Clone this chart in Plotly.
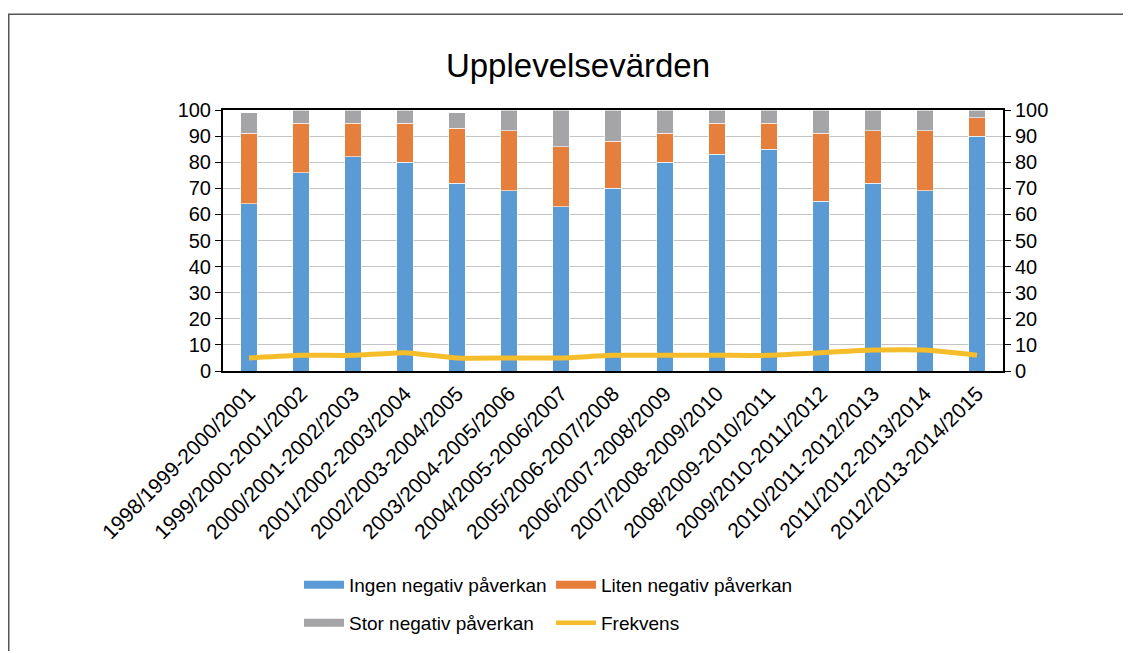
import plotly.graph_objects as go

# Säsonger (kategorier)
seasons = [
    "1998/1999-2000/2001", "1999/2000-2001/2002", "2000/2001-2002/2003",
    "2001/2002-2003/2004", "2002/2003-2004/2005", "2003/2004-2005/2006",
    "2004/2005-2006/2007", "2005/2006-2007/2008", "2006/2007-2008/2009",
    "2007/2008-2009/2010", "2008/2009-2010/2011", "2009/2010-2011/2012",
    "2010/2011-2012/2013", "2011/2012-2013/2014", "2012/2013-2014/2015",
]

ingen = [64, 76, 82, 80, 72, 69, 63, 70, 80, 83, 85, 65, 72, 69, 90]
liten = [27, 19, 13, 15, 21, 23, 23, 18, 11, 12, 10, 26, 20, 23, 7]
stor = [8, 5, 5, 5, 6, 8, 14, 12, 9, 5, 5, 9, 8, 8, 3]
frekvens = [5, 6, 6, 7, 5, 5, 5, 6, 6, 6, 6, 7, 8, 8, 6]

yticks = list(range(0, 101, 10))

FONT = "Liberation Sans, Arial, sans-serif"
BLUE, ORANGE, GREY, GOLD = "#5B9BD5", "#E67E3C", "#A5A5A8", "#F6BD2A"
bar_edge = dict(color="rgba(255,255,255,0.6)", width=1)

# sidan får 8 px marginal, så figuren görs 8 px mindre
W, H = 1123, 645
L, R, T, B = 215, 128, 102, 281
PW, PH = W - L - R, H - T - B


def px_x(x):
    return (x - L) / PW


def px_y(y):
    return (H - B - y) / PH


fig = go.Figure()
fig.add_trace(go.Bar(x=seasons, y=ingen, name="Ingen negativ påverkan",
                     marker=dict(color=BLUE, line=bar_edge), showlegend=False))
fig.add_trace(go.Bar(x=seasons, y=liten, name="Liten negativ påverkan",
                     marker=dict(color=ORANGE, line=bar_edge), showlegend=False))
fig.add_trace(go.Bar(x=seasons, y=stor, name="Stor negativ påverkan",
                     marker=dict(color=GREY, line=bar_edge), showlegend=False))
fig.add_trace(go.Scatter(x=seasons, y=frekvens, name="Frekvens", mode="lines",
                         line=dict(color=GOLD, width=5, shape="spline", smoothing=0.5),
                         yaxis="y2", showlegend=False))

# förklaringar med breda rektangulära symboler
for name, color, lg, w in [("Ingen negativ påverkan", BLUE, "legend", 8),
                           ("Liten negativ påverkan", ORANGE, "legend", 8),
                           ("Stor negativ påverkan", GREY, "legend2", 8),
                           ("Frekvens", GOLD, "legend2", 4.5)]:
    fig.add_trace(go.Scatter(x=[None], y=[None], mode="lines", name=name,
                             line=dict(color=color, width=w), legend=lg))

legend_common = dict(
    orientation="h", xanchor="left", yanchor="middle",
    font=dict(family=FONT, size=19, color="#000000"),
    entrywidth=197, bgcolor="rgba(0,0,0,0)", traceorder="normal",
    itemwidth=40,
)

fig.update_layout(
    width=W, height=H,
    paper_bgcolor="white", plot_bgcolor="white",
    barmode="stack", bargap=0.69,
    margin=dict(l=L, r=R, t=T, b=B),
    font=dict(family=FONT, size=20, color="#000000"),
    title=dict(text="Upplevelsevärden", x=570 / W, xanchor="center",
               y=1 - 57 / H, yanchor="middle", yref="container",
               font=dict(family=FONT, size=33, color="#000000")),
    xaxis=dict(tickangle=-45, tickfont=dict(size=21), showline=True, linecolor="#000000",
               linewidth=2, mirror=True, ticks="", showgrid=False),
    yaxis=dict(range=[0, 100], tickvals=yticks, showline=True, linecolor="#000000",
               linewidth=2, ticks="outside", ticklen=6, tickcolor="#000000",
               gridcolor="#C4C4C4", gridwidth=1.3, zeroline=False),
    yaxis2=dict(range=[0, 100], tickvals=yticks, overlaying="y", side="right",
                showline=True, linecolor="#000000", linewidth=2, ticks="outside",
                ticklen=6, tickcolor="#000000", showgrid=False, zeroline=False),
    legend=dict(x=px_x(291), y=px_y(577), **legend_common),
    legend2=dict(x=px_x(291), y=px_y(615), **legend_common),
)

# ram runt diagrammet (vänster och överkant)
fig.add_shape(type="line", xref="paper", yref="paper",
              x0=px_x(0), x1=px_x(W), y0=px_y(6), y1=px_y(6),
              line=dict(color="#555555", width=1.5))
fig.add_shape(type="line", xref="paper", yref="paper",
              x0=px_x(0.75), x1=px_x(0.75), y0=px_y(6), y1=px_y(H),
              line=dict(color="#555555", width=1.5))

fig.write_html("out.html")
